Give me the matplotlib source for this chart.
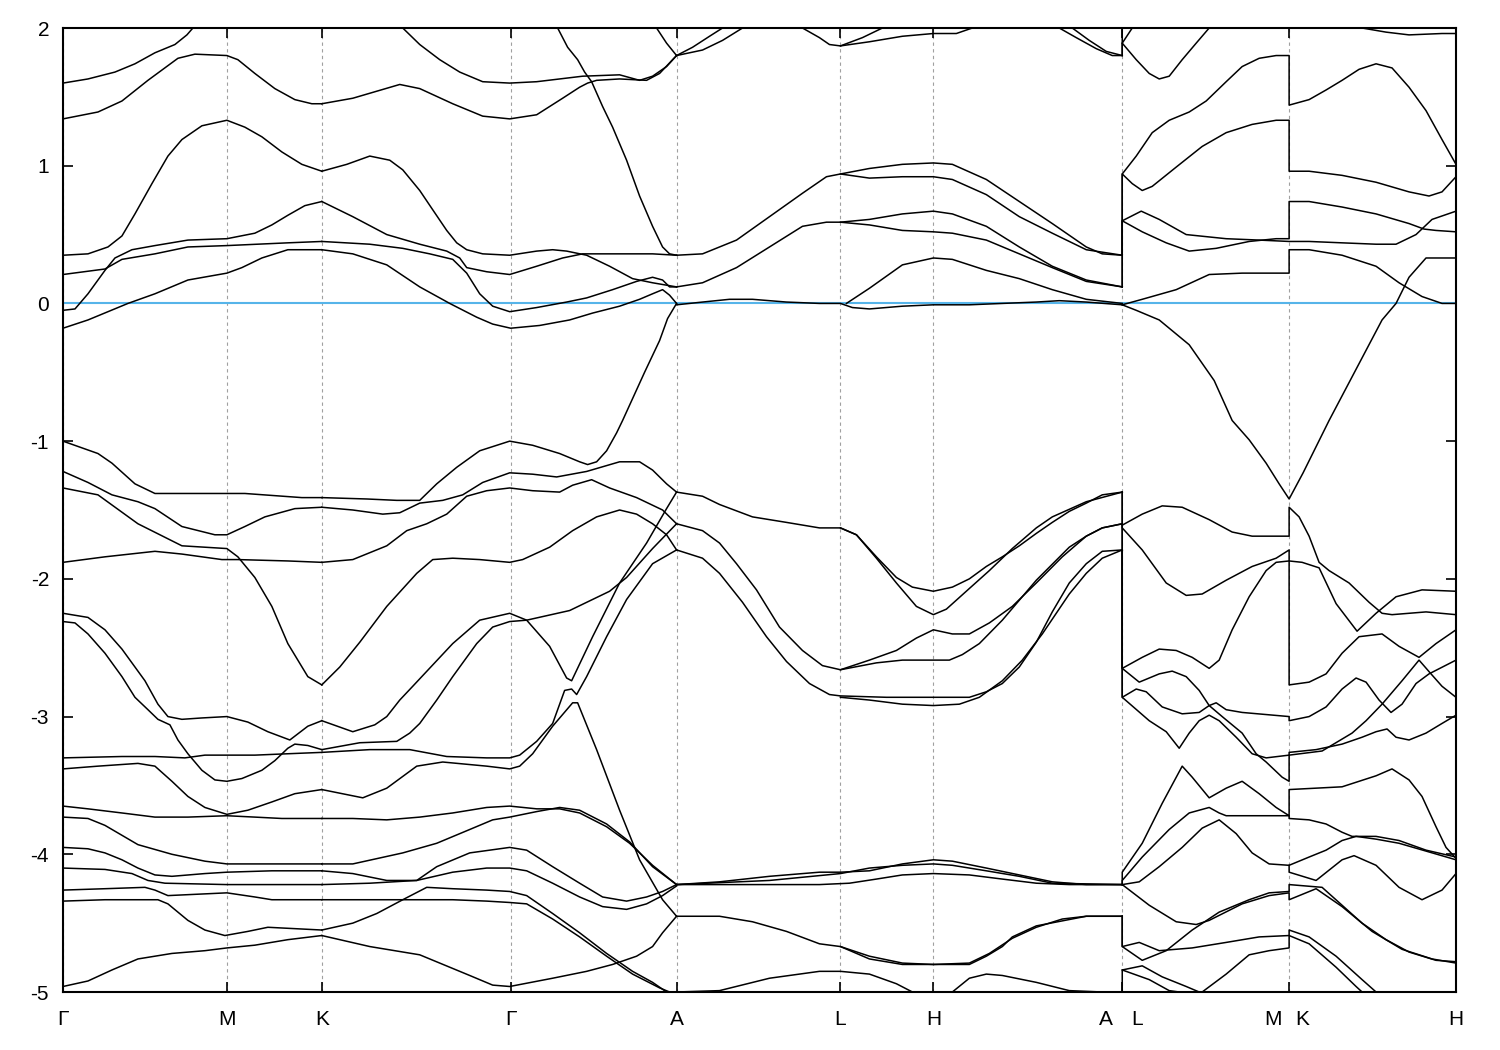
import matplotlib
matplotlib.use('Agg')
import matplotlib.pyplot as plt

plt.rcParams['font.family'] = ['Liberation Sans', 'DejaVu Sans']

# high-symmetry points along the k-path
kpoint_pos = [0.0, 0.164, 0.259, 0.448, 0.614, 0.778, 0.871, 1.060, 1.227, 1.394]
klabel_text = ['Γ', 'M', 'K', 'Γ', 'A', 'L', 'H', 'A', 'L', 'M', 'K', 'H']
klabel_pos = [0.0, 0.164, 0.259, 0.448, 0.614, 0.778, 0.871, 1.044, 1.075, 1.211, 1.240, 1.394]
energy_ticks = [-5, -4, -3, -2, -1, 0, 1, 2]
fermi_level = 0.0

# bands, Gamma -> M -> K   (k, E) in eV
bands_G_M_K = [
    [(0.000,1.60),(0.025,1.63),(0.052,1.68),(0.072,1.74),(0.092,1.82),(0.112,1.88),(0.124,1.95),(0.130,2.00)],
    [(0.000,1.34),(0.035,1.39),(0.059,1.47),(0.085,1.62),(0.115,1.78),(0.132,1.81),(0.164,1.80),(0.175,1.77),(0.192,1.67),(0.212,1.56),(0.232,1.48),(0.249,1.45),(0.259,1.45)],
    [(0,0.35),(0.025,0.36),(0.045,0.41),(0.059,0.49),(0.072,0.65),(0.089,0.87),(0.105,1.07),(0.119,1.19),(0.139,1.29),(0.164,1.33),(0.182,1.28),(0.199,1.21),(0.219,1.10),(0.239,1.01),(0.259,0.96)],
    [(0,-0.05),(0.012,-0.04),(0.025,0.07),(0.042,0.24),(0.052,0.33),(0.069,0.39),(0.092,0.42),(0.125,0.46),(0.164,0.47),(0.192,0.51),(0.209,0.57),(0.225,0.64),(0.242,0.71),(0.259,0.74)],
    [(0,0.21),(0.042,0.25),(0.059,0.32),(0.092,0.36),(0.125,0.41),(0.164,0.42),(0.225,0.44),(0.259,0.45)],
    [(0,-0.18),(0.025,-0.12),(0.065,0.0),(0.092,0.07),(0.125,0.17),(0.164,0.22),(0.179,0.26),(0.199,0.33),(0.225,0.39),(0.245,0.39),(0.259,0.39)],
    [(0,-1.00),(0.035,-1.09),(0.049,-1.16),(0.072,-1.31),(0.092,-1.38),(0.112,-1.38),(0.164,-1.38),(0.182,-1.38),(0.239,-1.41),(0.259,-1.41)],
    [(0,-1.22),(0.025,-1.30),(0.049,-1.39),(0.075,-1.44),(0.092,-1.49),(0.119,-1.62),(0.152,-1.68),(0.164,-1.68),(0.182,-1.62),(0.202,-1.55),(0.232,-1.49),(0.259,-1.48)],
    [(0,-1.34),(0.035,-1.39),(0.075,-1.60),(0.119,-1.76),(0.164,-1.78),(0.175,-1.84),(0.192,-1.99),(0.209,-2.20),(0.225,-2.47),(0.245,-2.71),(0.259,-2.77)],
    [(0,-1.88),(0.042,-1.84),(0.092,-1.80),(0.119,-1.82),(0.159,-1.86),(0.175,-1.86),(0.225,-1.87),(0.259,-1.88)],
    [(0,-2.25),(0.025,-2.28),(0.042,-2.37),(0.059,-2.51),(0.072,-2.64),(0.082,-2.74),(0.095,-2.91),(0.105,-3.00),(0.119,-3.02),(0.139,-3.01),(0.164,-3.00),(0.185,-3.04),(0.205,-3.11),(0.227,-3.17),(0.245,-3.07),(0.259,-3.03)],
    [(0,-2.31),(0.012,-2.32),(0.025,-2.40),(0.042,-2.54),(0.059,-2.71),(0.072,-2.86),(0.085,-2.95),(0.095,-3.02),(0.107,-3.06),(0.115,-3.17),(0.125,-3.27),(0.139,-3.39),(0.152,-3.46),(0.164,-3.47),(0.179,-3.45),(0.199,-3.39),(0.212,-3.32),(0.225,-3.23),(0.232,-3.20),(0.245,-3.21),(0.259,-3.24)],
    [(0,-3.30),(0.059,-3.29),(0.092,-3.29),(0.122,-3.30),(0.142,-3.28),(0.164,-3.28),(0.192,-3.28),(0.225,-3.27),(0.259,-3.26)],
    [(0,-3.38),(0.035,-3.36),(0.075,-3.34),(0.092,-3.36),(0.109,-3.47),(0.125,-3.58),(0.142,-3.66),(0.164,-3.71),(0.185,-3.68),(0.209,-3.62),(0.232,-3.56),(0.259,-3.53)],
    [(0,-3.65),(0.025,-3.67),(0.059,-3.70),(0.092,-3.73),(0.125,-3.73),(0.164,-3.72),(0.192,-3.73),(0.219,-3.74),(0.259,-3.74)],
    [(0,-3.73),(0.025,-3.74),(0.042,-3.79),(0.075,-3.93),(0.109,-4.00),(0.142,-4.05),(0.164,-4.07),(0.209,-4.07),(0.259,-4.07)],
    [(0,-3.95),(0.025,-3.96),(0.042,-3.99),(0.059,-4.04),(0.075,-4.10),(0.092,-4.15),(0.109,-4.16),(0.142,-4.14),(0.164,-4.13),(0.209,-4.12),(0.259,-4.12)],
    [(0,-4.10),(0.042,-4.11),(0.069,-4.14),(0.085,-4.19),(0.102,-4.21),(0.164,-4.22),(0.259,-4.22)],
    [(0,-4.26),(0.042,-4.25),(0.082,-4.24),(0.092,-4.26),(0.105,-4.30),(0.164,-4.28),(0.192,-4.31),(0.209,-4.33),(0.259,-4.33)],
    [(0,-4.34),(0.042,-4.33),(0.095,-4.33),(0.105,-4.36),(0.125,-4.48),(0.142,-4.55),(0.162,-4.59),(0.185,-4.56),(0.205,-4.53),(0.232,-4.54),(0.259,-4.55)],
    [(0,-4.96),(0.025,-4.92),(0.049,-4.84),(0.075,-4.76),(0.109,-4.72),(0.142,-4.70),(0.164,-4.68),(0.192,-4.66),(0.225,-4.62),(0.259,-4.59)],
]

# bands, K -> Gamma -> A
bands_K_G_A = [
    [(0.340,2.00),(0.357,1.88),(0.377,1.77),(0.397,1.68),(0.420,1.61),(0.447,1.60),(0.474,1.61),(0.497,1.63),(0.520,1.65),(0.557,1.66),(0.577,1.62),(0.590,1.65),(0.604,1.72),(0.614,1.80)],
    [(0.259,1.45),(0.290,1.49),(0.337,1.59),(0.357,1.56),(0.390,1.45),(0.420,1.36),(0.447,1.34),(0.474,1.37),(0.500,1.49),(0.517,1.57),(0.525,1.60),(0.534,1.62),(0.557,1.63),(0.584,1.62),(0.597,1.67),(0.614,1.80)],
    [(0.495,2.00),(0.505,1.86),(0.515,1.77),(0.522,1.68),(0.529,1.61),(0.540,1.43),(0.550,1.28),(0.564,1.04),(0.577,0.78),(0.590,0.56),(0.600,0.41),(0.607,0.36),(0.614,0.35)],
    [(0.594,2.00),(0.604,1.89),(0.614,1.80)],
    [(0.259,0.96),(0.284,1.01),(0.307,1.07),(0.327,1.04),(0.340,0.97),(0.357,0.82),(0.370,0.68),(0.384,0.53),(0.394,0.44),(0.404,0.39),(0.420,0.36),(0.447,0.35),(0.474,0.38),(0.490,0.39),(0.504,0.38),(0.524,0.35),(0.547,0.27),(0.570,0.18),(0.590,0.15),(0.614,0.12)],
    [(0.259,0.74),(0.290,0.63),(0.324,0.50),(0.357,0.43),(0.384,0.38),(0.397,0.33),(0.404,0.26),(0.424,0.23),(0.447,0.21),(0.474,0.27),(0.500,0.33),(0.520,0.36),(0.557,0.36),(0.590,0.36),(0.614,0.35)],
    [(0.259,0.45),(0.307,0.43),(0.340,0.40),(0.367,0.36),(0.390,0.32),(0.404,0.22),(0.417,0.07),(0.430,-0.02),(0.447,-0.06),(0.474,-0.03),(0.504,0.01),(0.524,0.04),(0.550,0.10),(0.574,0.16),(0.590,0.19),(0.600,0.17),(0.607,0.12),(0.614,0.12)],
    [(0.259,0.39),(0.290,0.36),(0.324,0.28),(0.357,0.12),(0.387,0.0),(0.414,-0.10),(0.430,-0.15),(0.448,-0.18),(0.477,-0.16),(0.507,-0.12),(0.530,-0.07),(0.557,-0.02),(0.577,0.03),(0.590,0.07),(0.600,0.10),(0.607,0.06),(0.614,0.0)],
    [(0.259,-1.41),(0.304,-1.42),(0.334,-1.43),(0.357,-1.43),(0.374,-1.31),(0.394,-1.19),(0.417,-1.07),(0.447,-1.00),(0.470,-1.03),(0.497,-1.09),(0.517,-1.15),(0.525,-1.17),(0.534,-1.15),(0.544,-1.07),(0.554,-0.94),(0.560,-0.85),(0.582,-0.50),(0.597,-0.27),(0.605,-0.11),(0.614,0.0)],
    [(0.259,-1.48),(0.290,-1.50),(0.320,-1.53),(0.337,-1.52),(0.357,-1.45),(0.380,-1.43),(0.400,-1.39),(0.420,-1.30),(0.447,-1.23),(0.470,-1.24),(0.494,-1.26),(0.524,-1.22),(0.557,-1.15),(0.577,-1.15),(0.590,-1.21),(0.604,-1.31),(0.614,-1.37)],
    [(0.259,-1.88),(0.290,-1.86),(0.324,-1.76),(0.344,-1.65),(0.364,-1.60),(0.384,-1.53),(0.404,-1.40),(0.424,-1.36),(0.447,-1.34),(0.470,-1.36),(0.497,-1.37),(0.510,-1.32),(0.529,-1.28),(0.547,-1.34),(0.574,-1.41),(0.600,-1.50),(0.614,-1.60)],
    [(0.259,-2.77),(0.277,-2.64),(0.297,-2.46),(0.324,-2.20),(0.354,-1.96),(0.370,-1.86),(0.390,-1.85),(0.417,-1.86),(0.447,-1.88),(0.460,-1.86),(0.487,-1.77),(0.510,-1.65),(0.534,-1.55),(0.557,-1.50),(0.574,-1.53),(0.590,-1.60),(0.604,-1.68),(0.614,-1.79)],
    [(0.259,-3.03),(0.290,-3.11),(0.312,-3.06),(0.324,-3.00),(0.337,-2.88),(0.350,-2.78),(0.390,-2.47),(0.417,-2.30),(0.447,-2.25),(0.464,-2.30),(0.487,-2.49),(0.504,-2.72),(0.509,-2.74),(0.530,-2.42),(0.557,-2.03),(0.584,-1.74),(0.604,-1.49),(0.614,-1.37)],
    [(0.259,-3.24),(0.297,-3.19),(0.334,-3.18),(0.347,-3.12),(0.357,-3.05),(0.374,-2.88),(0.390,-2.71),(0.414,-2.47),(0.430,-2.35),(0.447,-2.31),(0.464,-2.30),(0.507,-2.23),(0.547,-2.09),(0.564,-1.99),(0.590,-1.78),(0.614,-1.60)],
    [(0.259,-3.26),(0.307,-3.24),(0.347,-3.24),(0.384,-3.29),(0.424,-3.30),(0.447,-3.30),(0.457,-3.28),(0.474,-3.18),(0.490,-3.05),(0.502,-2.81),(0.509,-2.80),(0.514,-2.84),(0.524,-2.71),(0.544,-2.42),(0.564,-2.15),(0.590,-1.89),(0.614,-1.79)],
    [(0.259,-3.53),(0.300,-3.59),(0.324,-3.52),(0.354,-3.36),(0.380,-3.33),(0.424,-3.36),(0.447,-3.38),(0.457,-3.36),(0.470,-3.27),(0.490,-3.07),(0.510,-2.90),(0.515,-2.90),(0.534,-3.24),(0.557,-3.68),(0.577,-4.04),(0.600,-4.33),(0.614,-4.45)],
    [(0.259,-3.74),(0.290,-3.74),(0.324,-3.75),(0.357,-3.73),(0.390,-3.70),(0.424,-3.66),(0.447,-3.65),(0.474,-3.67),(0.497,-3.67),(0.517,-3.70),(0.544,-3.80),(0.567,-3.92),(0.590,-4.08),(0.614,-4.22)],
    [(0.259,-4.07),(0.290,-4.07),(0.340,-3.99),(0.374,-3.92),(0.407,-3.82),(0.430,-3.75),(0.447,-3.73),(0.474,-3.69),(0.497,-3.66),(0.517,-3.68),(0.544,-3.78),(0.567,-3.91),(0.590,-4.09),(0.614,-4.22)],
    [(0.259,-4.12),(0.290,-4.14),(0.324,-4.19),(0.354,-4.19),(0.374,-4.09),(0.407,-3.99),(0.447,-3.95),(0.464,-3.97),(0.490,-4.09),(0.517,-4.21),(0.540,-4.31),(0.564,-4.34),(0.584,-4.31),(0.600,-4.27),(0.614,-4.22)],
    [(0.259,-4.22),(0.307,-4.21),(0.354,-4.19),(0.390,-4.13),(0.424,-4.10),(0.447,-4.10),(0.464,-4.12),(0.490,-4.21),(0.517,-4.31),(0.540,-4.38),(0.564,-4.40),(0.584,-4.36),(0.600,-4.30),(0.614,-4.23)],
    [(0.259,-4.33),(0.290,-4.33),(0.340,-4.33),(0.390,-4.33),(0.424,-4.34),(0.447,-4.35),(0.464,-4.36),(0.490,-4.47),(0.517,-4.60),(0.544,-4.74),(0.570,-4.87),(0.597,-4.97),(0.607,-5.00)],
    [(0.259,-4.55),(0.290,-4.50),(0.314,-4.43),(0.340,-4.33),(0.364,-4.24),(0.390,-4.25),(0.424,-4.26),(0.447,-4.27),(0.464,-4.30),(0.490,-4.43),(0.517,-4.57),(0.544,-4.72),(0.570,-4.85),(0.590,-4.93),(0.604,-5.00)],
    [(0.259,-4.59),(0.307,-4.67),(0.357,-4.73),(0.407,-4.88),(0.430,-4.95),(0.447,-4.96),(0.490,-4.90),(0.524,-4.85),(0.550,-4.80),(0.574,-4.74),(0.590,-4.67),(0.600,-4.57),(0.614,-4.45)],
]

# bands, A -> L -> H -> A
bands_A_L_H_A = [
    [(0.614,0.35),(0.640,0.36),(0.674,0.46),(0.707,0.63),(0.740,0.80),(0.764,0.92),(0.778,0.94),(0.807,0.98),(0.840,1.01),(0.871,1.02),(0.890,1.01),(0.924,0.90),(0.957,0.74),(0.990,0.58),(1.024,0.41),(1.040,0.36),(1.060,0.35)],
    [(0.778,0.94),(0.807,0.91),(0.840,0.92),(0.871,0.92),(0.890,0.90),(0.924,0.79),(0.957,0.63),(0.990,0.51),(1.024,0.39),(1.060,0.35)],
    [(0.614,0.12),(0.640,0.15),(0.674,0.26),(0.707,0.41),(0.740,0.56),(0.764,0.59),(0.778,0.59),(0.807,0.61),(0.840,0.65),(0.871,0.67),(0.890,0.65),(0.924,0.56),(0.957,0.41),(0.990,0.27),(1.024,0.17),(1.060,0.12)],
    [(0.778,0.59),(0.807,0.57),(0.840,0.53),(0.871,0.52),(0.890,0.51),(0.924,0.46),(0.957,0.36),(0.990,0.26),(1.024,0.16),(1.060,0.12)],
    [(0.784,0.0),(0.807,0.11),(0.840,0.28),(0.871,0.33),(0.890,0.32),(0.924,0.24),(0.957,0.18),(0.990,0.10),(1.024,0.03),(1.060,0.0)],
    [(0.614,-0.01),(0.640,0.01),(0.667,0.03),(0.690,0.03),(0.724,0.01),(0.757,0.0),(0.778,0.0),(0.790,-0.03),(0.807,-0.04),(0.840,-0.02),(0.871,-0.01),(0.907,-0.01),(0.940,0.0),(0.974,0.01),(0.997,0.02),(1.024,0.01),(1.060,-0.01)],
    [(0.614,1.80),(0.630,1.86),(0.647,1.94),(0.660,2.00)],
    [(0.614,1.80),(0.640,1.84),(0.660,1.91),(0.680,2.00)],
    [(0.740,2.00),(0.757,1.93),(0.767,1.88),(0.778,1.87),(0.807,1.90),(0.840,1.94),(0.871,1.96),(0.894,1.96),(0.910,2.00)],
    [(0.778,1.87),(0.800,1.93),(0.820,2.00)],
    [(0.997,2.00),(1.014,1.93),(1.034,1.85),(1.050,1.80),(1.060,1.80),(1.060,2.05)],
    [(1.010,2.00),(1.027,1.91),(1.044,1.83),(1.060,1.80)],
    [(0.614,-1.37),(0.640,-1.40),(0.657,-1.46),(0.690,-1.55),(0.724,-1.59),(0.757,-1.63),(0.778,-1.63),(0.794,-1.68),(0.814,-1.84),(0.834,-1.99),(0.850,-2.06),(0.871,-2.09),(0.890,-2.06),(0.907,-2.00),(0.924,-1.91),(0.940,-1.84),(0.957,-1.76),(0.974,-1.67),(0.990,-1.59),(1.007,-1.51),(1.024,-1.45),(1.040,-1.39),(1.060,-1.37)],
    [(0.778,-1.63),(0.794,-1.68),(0.814,-1.85),(0.834,-2.03),(0.854,-2.20),(0.871,-2.26),(0.884,-2.22),(0.907,-2.07),(0.927,-1.94),(0.950,-1.78),(0.974,-1.63),(0.990,-1.55),(1.024,-1.44),(1.060,-1.37)],
    [(0.614,-1.60),(0.640,-1.65),(0.657,-1.74),(0.674,-1.89),(0.694,-2.08),(0.717,-2.35),(0.740,-2.52),(0.760,-2.63),(0.778,-2.66),(0.807,-2.59),(0.834,-2.52),(0.854,-2.43),(0.871,-2.37),(0.890,-2.40),(0.907,-2.40),(0.927,-2.32),(0.950,-2.20),(0.974,-2.03),(1.000,-1.84),(1.024,-1.69),(1.040,-1.63),(1.060,-1.60)],
    [(0.614,-1.79),(0.640,-1.85),(0.657,-1.96),(0.680,-2.17),(0.704,-2.42),(0.724,-2.60),(0.747,-2.76),(0.767,-2.84),(0.778,-2.85),(0.824,-2.86),(0.871,-2.86),(0.907,-2.86),(0.924,-2.82),(0.940,-2.76),(0.957,-2.64),(0.974,-2.46),(0.990,-2.24),(1.007,-2.03),(1.024,-1.89),(1.040,-1.80),(1.060,-1.79)],
    [(0.778,-2.66),(0.814,-2.61),(0.840,-2.59),(0.887,-2.59),(0.900,-2.55),(0.917,-2.47),(0.940,-2.30),(0.974,-2.01),(1.007,-1.77),(1.024,-1.69),(1.040,-1.63),(1.060,-1.60)],
    [(0.778,-2.86),(0.807,-2.88),(0.840,-2.91),(0.871,-2.92),(0.897,-2.91),(0.917,-2.86),(0.940,-2.74),(0.960,-2.59),(0.980,-2.40),(1.007,-2.11),(1.024,-1.96),(1.040,-1.85),(1.060,-1.79)],
    [(0.614,-4.22),(0.657,-4.20),(0.707,-4.16),(0.757,-4.13),(0.778,-4.13),(0.807,-4.12),(0.840,-4.07),(0.871,-4.04),(0.890,-4.05),(0.924,-4.10),(0.957,-4.15),(0.990,-4.20),(1.024,-4.22),(1.060,-4.22)],
    [(0.614,-4.22),(0.700,-4.22),(0.757,-4.22),(0.787,-4.21),(0.814,-4.18),(0.840,-4.15),(0.871,-4.14),(0.907,-4.15),(0.940,-4.18),(0.974,-4.21),(1.007,-4.22),(1.060,-4.22)],
    [(0.614,-4.22),(0.707,-4.19),(0.778,-4.14),(0.807,-4.10),(0.840,-4.08),(0.871,-4.07),(0.890,-4.08),(0.924,-4.12),(0.957,-4.16),(0.990,-4.21),(1.060,-4.22)],
    [(0.614,-4.45),(0.657,-4.45),(0.690,-4.49),(0.724,-4.56),(0.757,-4.65),(0.778,-4.67),(0.807,-4.74),(0.840,-4.79),(0.871,-4.80),(0.907,-4.79),(0.927,-4.72),(0.950,-4.61),(0.974,-4.53),(1.000,-4.47),(1.024,-4.45),(1.060,-4.45)],
    [(0.778,-4.67),(0.807,-4.76),(0.840,-4.80),(0.871,-4.80),(0.907,-4.80),(0.924,-4.74),(0.940,-4.67),(0.950,-4.60),(0.974,-4.52),(1.024,-4.45),(1.060,-4.45)],
    [(0.614,-5.00),(0.657,-4.99),(0.707,-4.90),(0.757,-4.85),(0.778,-4.85),(0.807,-4.87),(0.834,-4.94),(0.850,-5.00)],
    [(0.890,-5.00),(0.907,-4.90),(0.924,-4.87),(0.940,-4.88),(0.974,-4.93),(1.007,-4.99),(1.040,-5.00),(1.060,-5.00)],
]

# bands, L -> M | K -> H  (A|L and M|K are discontinuities)
bands_L_M_K_H = [
    [(1.060,1.80),(1.060,1.89),(1.074,1.77),(1.087,1.67),(1.097,1.63),(1.107,1.65),(1.120,1.77),(1.134,1.89),(1.147,2.00)],
    [(1.060,1.89),(1.070,2.00)],
    [(1.060,0.35),(1.060,0.94),(1.070,0.87),(1.080,0.82),(1.090,0.85),(1.114,0.99),(1.140,1.14),(1.164,1.24),(1.190,1.30),(1.214,1.33),(1.227,1.33),(1.227,0.96),(1.247,0.96),(1.280,0.93),(1.314,0.88),(1.347,0.81),(1.367,0.78),(1.380,0.81),(1.394,0.92)],
    [(1.060,0.35),(1.060,0.94),(1.074,1.07),(1.090,1.24),(1.107,1.33),(1.127,1.39),(1.144,1.47),(1.164,1.61),(1.180,1.72),(1.197,1.78),(1.214,1.80),(1.227,1.80),(1.227,1.44),(1.247,1.48),(1.264,1.55),(1.280,1.62),(1.297,1.70),(1.314,1.74),(1.330,1.71),(1.347,1.57),(1.364,1.40),(1.380,1.19),(1.394,1.01)],
    [(1.060,0.12),(1.060,0.60),(1.079,0.67),(1.097,0.61),(1.124,0.50),(1.164,0.47),(1.197,0.46),(1.227,0.45),(1.247,0.45),(1.280,0.44),(1.314,0.43),(1.334,0.43),(1.354,0.50),(1.370,0.61),(1.394,0.67)],
    [(1.060,0.12),(1.060,0.60),(1.080,0.52),(1.104,0.44),(1.127,0.38),(1.154,0.40),(1.187,0.45),(1.214,0.47),(1.227,0.47),(1.227,0.74),(1.247,0.74),(1.280,0.70),(1.314,0.65),(1.347,0.58),(1.362,0.54),(1.374,0.53),(1.394,0.52)],
    [(1.060,-0.01),(1.080,0.03),(1.114,0.10),(1.147,0.21),(1.180,0.22),(1.214,0.22),(1.227,0.22),(1.227,0.39),(1.247,0.39),(1.280,0.35),(1.314,0.27),(1.337,0.15),(1.360,0.05),(1.380,0.0),(1.394,0.0)],
    [(1.300,2.00),(1.324,1.97),(1.347,1.95),(1.380,1.96),(1.394,1.96)],
    [(1.060,-0.01),(1.074,-0.05),(1.097,-0.12),(1.127,-0.30),(1.152,-0.56),(1.170,-0.85),(1.187,-0.99),(1.204,-1.16),(1.217,-1.31),(1.227,-1.42),(1.241,-1.23),(1.254,-1.04),(1.267,-0.85),(1.320,-0.12),(1.334,0.0),(1.347,0.19),(1.364,0.33),(1.394,0.33)],
    [(1.060,-1.37),(1.060,-1.61),(1.080,-1.53),(1.100,-1.47),(1.120,-1.48),(1.147,-1.57),(1.170,-1.66),(1.190,-1.69),(1.214,-1.69),(1.227,-1.69),(1.227,-1.48),(1.237,-1.55),(1.247,-1.69),(1.257,-1.88),(1.267,-1.94),(1.287,-2.03),(1.307,-2.17),(1.320,-2.25),(1.330,-2.26),(1.364,-2.24),(1.394,-2.26)],
    [(1.060,-1.37),(1.060,-1.63),(1.080,-1.79),(1.104,-2.03),(1.124,-2.12),(1.140,-2.11),(1.164,-2.01),(1.190,-1.91),(1.214,-1.85),(1.227,-1.79),(1.227,-2.77),(1.247,-2.75),(1.264,-2.69),(1.280,-2.54),(1.297,-2.42),(1.320,-2.40),(1.337,-2.49),(1.357,-2.57),(1.374,-2.47),(1.394,-2.37)],
    [(1.060,-1.60),(1.060,-2.65),(1.080,-2.57),(1.097,-2.51),(1.114,-2.52),(1.130,-2.57),(1.147,-2.65),(1.157,-2.59),(1.170,-2.37),(1.187,-2.13),(1.204,-1.94),(1.214,-1.88),(1.227,-1.87),(1.240,-1.88),(1.257,-1.92),(1.274,-2.18),(1.295,-2.38),(1.314,-2.25),(1.334,-2.13),(1.360,-2.08),(1.394,-2.09)],
    [(1.060,-1.60),(1.060,-2.65),(1.077,-2.75),(1.097,-2.69),(1.110,-2.67),(1.124,-2.71),(1.137,-2.81),(1.147,-2.92),(1.160,-3.00),(1.180,-3.12),(1.194,-3.27),(1.204,-3.33),(1.220,-3.44),(1.227,-3.47),(1.227,-3.26),(1.254,-3.24),(1.280,-3.20),(1.300,-3.15),(1.314,-3.11),(1.325,-3.09),(1.334,-3.15),(1.347,-3.17),(1.364,-3.12),(1.380,-3.05),(1.394,-2.99)],
    [(1.060,-1.79),(1.060,-2.86),(1.074,-2.80),(1.084,-2.82),(1.100,-2.93),(1.120,-2.98),(1.137,-2.97),(1.147,-2.92),(1.154,-2.90),(1.164,-2.95),(1.180,-2.97),(1.227,-3.00),(1.227,-3.03),(1.247,-3.00),(1.264,-2.93),(1.280,-2.80),(1.294,-2.72),(1.304,-2.75),(1.317,-2.88),(1.329,-2.97),(1.340,-2.91),(1.354,-2.76),(1.367,-2.69),(1.394,-2.59)],
    [(1.060,-1.79),(1.060,-2.86),(1.087,-3.03),(1.104,-3.11),(1.117,-3.23),(1.127,-3.12),(1.137,-3.03),(1.147,-2.99),(1.157,-3.03),(1.174,-3.15),(1.190,-3.27),(1.204,-3.30),(1.227,-3.28),(1.260,-3.25),(1.290,-3.12),(1.304,-3.03),(1.320,-2.91),(1.340,-2.74),(1.357,-2.59),(1.369,-2.69),(1.380,-2.78),(1.394,-2.86)],
    [(1.060,-4.22),(1.060,-4.13),(1.080,-3.92),(1.100,-3.63),(1.120,-3.36),(1.130,-3.44),(1.147,-3.59),(1.164,-3.52),(1.180,-3.47),(1.197,-3.56),(1.214,-3.66),(1.227,-3.72),(1.227,-3.53),(1.280,-3.51),(1.314,-3.43),(1.330,-3.38),(1.347,-3.46),(1.360,-3.58),(1.374,-3.80),(1.384,-3.95),(1.394,-4.03)],
    [(1.060,-4.22),(1.060,-4.19),(1.080,-4.02),(1.107,-3.82),(1.127,-3.70),(1.147,-3.66),(1.157,-3.70),(1.164,-3.72),(1.227,-3.72),(1.227,-3.74),(1.247,-3.75),(1.264,-3.78),(1.280,-3.84),(1.290,-3.87),(1.314,-3.87),(1.337,-3.90),(1.364,-3.97),(1.394,-4.02)],
    [(1.060,-4.22),(1.077,-4.20),(1.097,-4.09),(1.120,-3.95),(1.140,-3.81),(1.157,-3.75),(1.174,-3.85),(1.190,-3.99),(1.207,-4.07),(1.227,-4.08),(1.247,-4.02),(1.264,-3.97),(1.280,-3.90),(1.294,-3.87),(1.314,-3.89),(1.337,-3.92),(1.394,-4.04)],
    [(1.227,-4.08),(1.227,-4.13),(1.254,-4.19),(1.280,-4.04),(1.292,-4.01),(1.314,-4.08),(1.337,-4.24),(1.360,-4.33),(1.380,-4.26),(1.394,-4.14)],
    [(1.060,-4.22),(1.087,-4.37),(1.114,-4.49),(1.134,-4.51),(1.147,-4.48),(1.180,-4.36),(1.207,-4.30),(1.227,-4.28),(1.227,-4.33),(1.254,-4.25),(1.280,-4.38),(1.310,-4.56),(1.340,-4.69),(1.370,-4.76),(1.394,-4.79)],
    [(1.060,-4.45),(1.060,-4.67),(1.080,-4.77),(1.104,-4.70),(1.130,-4.55),(1.157,-4.42),(1.187,-4.33),(1.207,-4.28),(1.227,-4.27),(1.227,-4.22),(1.260,-4.24),(1.280,-4.37),(1.300,-4.50),(1.324,-4.62),(1.347,-4.71),(1.374,-4.77),(1.394,-4.78)],
    [(1.060,-4.45),(1.060,-4.67),(1.077,-4.64),(1.097,-4.70),(1.130,-4.68),(1.164,-4.64),(1.197,-4.60),(1.227,-4.59),(1.247,-4.65),(1.274,-4.82),(1.294,-4.96),(1.300,-5.00)],
    [(1.060,-5.00),(1.060,-4.84),(1.080,-4.81),(1.100,-4.89),(1.124,-4.96),(1.137,-5.00)],
    [(1.060,-4.84),(1.087,-4.91),(1.107,-4.99),(1.117,-5.00)],
    [(1.140,-5.00),(1.164,-4.87),(1.187,-4.73),(1.207,-4.70),(1.227,-4.68),(1.227,-4.55),(1.247,-4.60),(1.274,-4.74),(1.300,-4.91),(1.314,-5.00)],
]

fig = plt.figure(figsize=(15, 10.5), dpi=100)
ax = fig.add_axes([63/1500, 58/1050, (1456-63)/1500, (992-28)/1050])

for kp in kpoint_pos:
    ax.axvline(kp, color='#a0a0a0', lw=0.8, ls=(0, (3, 3)), zorder=1)
ax.axhline(fermi_level, color='#56b4e9', lw=1.5, zorder=2)

for group in (bands_G_M_K, bands_K_G_A, bands_A_L_H_A, bands_L_M_K_H):
    for curve in group:
        ks = [p[0] for p in curve]
        es = [p[1] for p in curve]
        ax.plot(ks, es, color='black', lw=1.1, zorder=3, solid_joinstyle='round')

ax.set_xlim(kpoint_pos[0], kpoint_pos[-1])
ax.set_ylim(-5, 2)
ax.set_xticks(kpoint_pos)
ax.set_xticklabels([])
ax.set_yticks(energy_ticks)
ax.set_yticklabels([str(v) for v in energy_ticks])
ax.tick_params(direction='in', length=7, width=1.2, top=True, right=True, labelsize=15)
ax.tick_params(axis='y', pad=10)
for kx, txt in zip(klabel_pos, klabel_text):
    ax.text(kx, -0.029, txt, transform=ax.get_xaxis_transform(), ha='center', va='center', fontsize=15)
for s in ax.spines.values():
    s.set_linewidth(1.5)

fig.savefig('out.png', dpi=100)
